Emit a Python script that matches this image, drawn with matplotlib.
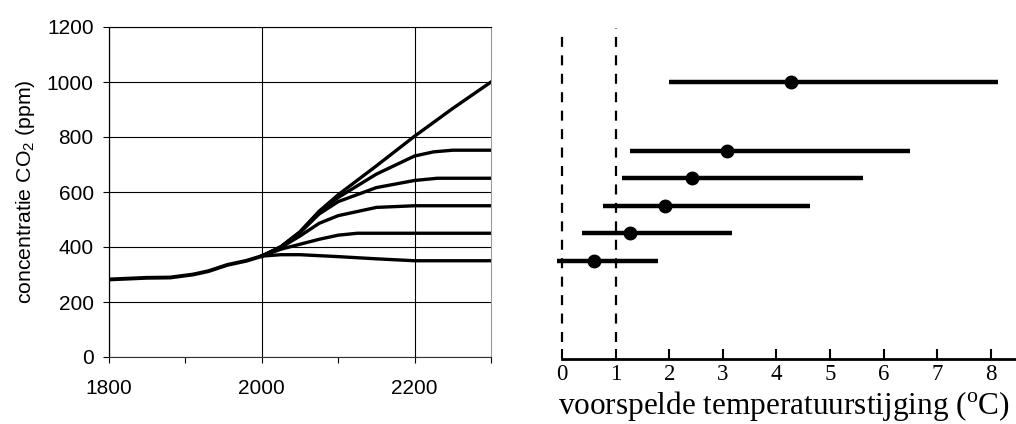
import numpy as np
import matplotlib.pyplot as plt
from matplotlib.ticker import MultipleLocator

plt.rcParams['mathtext.fontset'] = 'custom'
plt.rcParams['mathtext.rm'] = 'Liberation Serif'
plt.rcParams['mathtext.sf'] = 'Liberation Sans'

# CO2 concentration scenarios (ppm)
years_hist = [1800, 1850, 1880, 1910, 1930, 1955, 1980, 2000]
co2_hist = [282, 288, 289, 300, 312, 335, 350, 367]

years_1000 = [2000, 2025, 2050, 2075, 2100, 2150, 2200, 2250, 2300]
co2_1000 = [367, 401, 455, 530, 590, 695, 803, 904, 1000]

years_750 = [2000, 2025, 2050, 2075, 2100, 2150, 2200, 2225, 2250, 2300]
co2_750 = [367, 401, 455, 528, 580, 665, 731, 746, 752, 752]

years_650 = [2000, 2025, 2050, 2075, 2100, 2150, 2200, 2230, 2300]
co2_650 = [367, 400, 452, 520, 565, 616, 642, 650, 650]

years_550 = [2000, 2025, 2050, 2075, 2100, 2150, 2200, 2300]
co2_550 = [367, 398, 440, 486, 514, 544, 550, 550]

years_450 = [2000, 2025, 2050, 2075, 2100, 2125, 2300]
co2_450 = [367, 392, 410, 428, 443, 450, 450]

years_350 = [2000, 2025, 2050, 2100, 2150, 2200, 2300]
co2_350 = [367, 372, 372, 365, 357, 350, 350]

scenarios = [
    (years_1000, co2_1000),
    (years_750, co2_750),
    (years_650, co2_650),
    (years_550, co2_550),
    (years_450, co2_450),
    (years_350, co2_350),
]

# predicted temperature rise per stabilisation level
stab_levels = [1000, 750, 650, 550, 450, 350]
temp_best = [4.28, 3.08, 2.42, 1.92, 1.26, 0.60]
temp_low = [2.00, 1.27, 1.12, 0.77, 0.37, -0.10]
temp_high = [8.13, 6.49, 5.62, 4.62, 3.18, 1.79]

fig = plt.figure(figsize=(10.16, 4.24), dpi=100)

# left panel: concentration curves
ax1 = fig.add_axes([109 / 1016, 1 - 357 / 424, 382 / 1016, 330 / 424])
for yrs, vals in scenarios:
    ax1.plot(yrs, vals, color='black', lw=2.4, solid_joinstyle='round')
ax1.plot(years_hist, co2_hist, color='black', lw=2.8)
ax1.set_xlim(1800, 2300)
ax1.set_ylim(0, 1200)
ax1.set_xticks([1800, 2000, 2200])
ax1.xaxis.set_minor_locator(MultipleLocator(100))
ax1.set_yticks(range(0, 1201, 200))
ax1.grid(True, which='major', color='black', lw=0.8)
ax1.tick_params(which='both', direction='out', length=4, width=0.8,
                labelsize=15, pad=12)
ax1.tick_params(axis='y', pad=7)
for lab in ax1.get_xticklabels() + ax1.get_yticklabels():
    lab.set_family('Liberation Sans')
ax1.spines['right'].set_color('#999999')
ax1.spines['top'].set_color('black')
ax1.spines['top'].set_linewidth(0.8)
ax1.spines['left'].set_linewidth(0.9)
ax1.spines['bottom'].set_color('#333333')
ax1.set_ylabel(r'concentratie CO$_{\mathsf{2}}$ (ppm)', family='Liberation Sans',
               fontsize=15.3, labelpad=7)
ax1.set_axisbelow(True)

# right panel: temperature ranges
ax2 = fig.add_axes([562 / 1016, 1 - 357 / 424, 454 / 1016, 330 / 424])
ax2.set_xlim(0, 8.47)
ax2.set_ylim(0, 1200)
ax2.plot([0, 0], [55, 1167], color='black', lw=1.6, dashes=(4.5, 3.8),
         clip_on=False)
ax2.plot([1, 1], [55, 1196], color='black', lw=1.6, dashes=(4.5, 3.8),
         clip_on=False)
ax2.hlines(stab_levels, temp_low, temp_high, color='black', lw=3.2,
           clip_on=False)
ax2.plot(temp_best, stab_levels, 'o', color='black', ms=9, clip_on=False)
for s in ['top', 'right', 'left']:
    ax2.spines[s].set_visible(False)
ax2.spines['bottom'].set_linewidth(2)
ax2.spines['bottom'].set_position(('data', -7))
ax2.set_yticks([])
ax2.set_xticks(range(0, 9))
ax2.tick_params(axis='x', direction='in', length=7, width=1.5, pad=4,
                labelsize=16.5)
for lab in ax2.get_xticklabels():
    lab.set_family('Liberation Serif')
ax2.set_xlabel(r'voorspelde temperatuurstijging ($^{\mathrm{o}}$C)',
               family='Liberation Serif', fontsize=22.5)
ax2.xaxis.label.set_va('baseline')
ax2.xaxis.set_label_coords(0.488, -(414 - 357) / 330)

fig.savefig('out.png', dpi=100)
